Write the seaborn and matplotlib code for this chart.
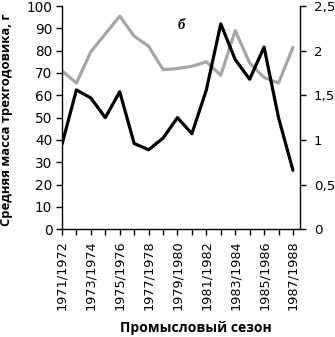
import numpy as np
import pandas as pd
import matplotlib
matplotlib.use("Agg")
import matplotlib.pyplot as plt
import seaborn as sns

# Data
seasons = ["1971/1972", "1972/1973", "1973/1974", "1974/1975", "1975/1976",
           "1976/1977", "1977/1978", "1978/1979", "1979/1980", "1980/1981",
           "1981/1982", "1982/1983", "1983/1984", "1984/1985", "1985/1986",
           "1986/1987", "1987/1988"]
mass = [71, 65.5, 79.5, 87.5, 95.5, 86.5, 82, 71.5, 72, 73,
        75, 69, 89, 74.5, 68, 65.5, 81.5]          # left axis, g
second = [0.95, 1.56, 1.47, 1.25, 1.54, 0.96, 0.89, 1.02, 1.25, 1.07,
          1.56, 2.3, 1.9, 1.68, 2.04, 1.25, 0.66]  # right axis
left_ticks = [0, 10, 20, 30, 40, 50, 60, 70, 80, 90, 100]
right_ticks = [0, 0.5, 1, 1.5, 2, 2.5]
right_labels = ["0", "0,5", "1", "1,5", "2", "2,5"]

df = pd.DataFrame({"idx": np.arange(len(seasons)), "mass": mass, "second": second})

sns.set_style("ticks")
plt.rcParams["font.family"] = ["DejaVu Sans"]
plt.rcParams["text.color"] = "black"
plt.rcParams["axes.labelcolor"] = "black"

fig = plt.figure(figsize=(3.35, 3.37), dpi=100)
ax = fig.add_axes([0.185, 0.32, 0.711, 0.662])
ax2 = ax.twinx()

sns.lineplot(data=df, x="idx", y="mass", ax=ax, color="#a6a6a6", linewidth=2.3)
sns.lineplot(data=df, x="idx", y="second", ax=ax2, color="black", linewidth=2.3)

ax.set_xlim(0, 16.5)
ax.set_ylim(0, 100)
ax2.set_ylim(0, 2.5)

ax.set_yticks(left_ticks)
ax.set_yticklabels([str(t) for t in left_ticks], fontsize=9.8)
ax2.set_yticks(right_ticks)
ax2.set_yticklabels(right_labels, fontsize=9.6)

ax.set_xticks(df["idx"])
ax.set_xticklabels([s if i % 2 == 0 else "" for i, s in enumerate(seasons)],
                   rotation=90, fontsize=9.3)

for a in (ax, ax2):
    a.spines["top"].set_visible(False)
    for sp in a.spines.values():
        sp.set_linewidth(1.0)
        sp.set_color("black")
    a.tick_params(direction="out", length=4.5, width=1, colors="black")
ax.spines["right"].set_visible(False)
ax2.spines["left"].set_visible(False)
ax2.spines["bottom"].set_visible(False)
ax.tick_params(axis="y", pad=2.5)
ax.tick_params(axis="x", pad=3.5)
ax2.tick_params(axis="y", pad=5.5)

ax.set_xlabel("Промысловый сезон", fontsize=10, fontweight="bold",
              family=["Open Sans", "DejaVu Sans"], color="black")
ax.xaxis.set_label_coords(0.561, -0.41)
ax.set_ylabel("Средняя масса трехгодовика, г", fontsize=9.4, fontweight="bold",
              family=["Open Sans", "DejaVu Sans"], color="black")
ax.yaxis.set_label_coords(-0.205, 0.49)
ax2.set_ylabel("")

ax.text(8.0, 89.7, "б", family=["Liberation Serif", "DejaVu Serif"],
        fontsize=10.5, fontweight="bold", style="italic", color="black")

fig.savefig("out.png", dpi=100)
